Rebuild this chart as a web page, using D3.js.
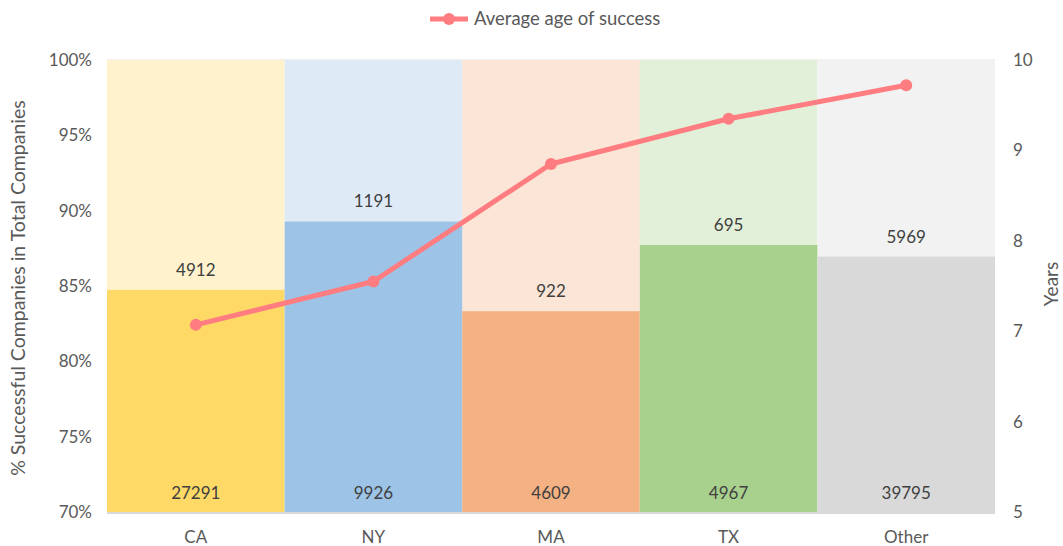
<!DOCTYPE html>
<html><head><meta charset="utf-8">
<script src="https://cdn.jsdelivr.net/npm/d3@7"></script>
<style>body{margin:0;background:#fff}svg text{font-family:Lato,"Open Sans",sans-serif}</style>
</head><body><svg id="c" width="1063" height="546"></svg>
<script>
const categories = ["CA","NY","MA","TX","Other"];
const successful = [27291, 9926, 4609, 4967, 39795];
const unsuccessful = [4912, 1191, 922, 695, 5969];
const avgAge = [7.07, 7.55, 8.85, 9.35, 9.72];
const lowerColors = ["#FFD966","#9DC3E6","#F4B183","#A9D18E","#D9D9D9"];
const upperColors = ["#FFF2CC","#DEEBF7","#FBE5D6","#E2F0D9","#F2F2F2"];
const leftTicks = [0.70,0.75,0.80,0.85,0.90,0.95,1.00];
const rightTicks = [5,6,7,8,9,10];

const svg = d3.select("#c");
const L = 107, R = 995, T = 60, B = 512;
const x = d3.scaleBand().domain(categories).range([L,R]).padding(0);
const y = d3.scaleLinear().domain([0.70,1.00]).range([B,T]);
const y2 = d3.scaleLinear().domain([5,10]).range([B,T]);
const textCol = "#595959";

const data = categories.map((c,i)=>({c, s:successful[i], u:unsuccessful[i], r:successful[i]/(successful[i]+unsuccessful[i]), age:avgAge[i], i}));

svg.append("line").attr("x1",L).attr("x2",R).attr("y1",y(1)).attr("y2",y(1)).attr("stroke","#e0e0e0");

svg.selectAll(".up").data(data).join("rect")
  .attr("x",d=>x(d.c)).attr("width",x.bandwidth())
  .attr("y",y(1)).attr("height",d=>y(d.r)-y(1))
  .attr("fill",d=>upperColors[d.i]);
svg.selectAll(".lo").data(data).join("rect")
  .attr("x",d=>x(d.c)).attr("width",x.bandwidth())
  .attr("y",d=>y(d.r)).attr("height",d=>y(0.70)-y(d.r))
  .attr("fill",d=>lowerColors[d.i]);

svg.selectAll(".lu").data(data).join("text")
  .attr("x",d=>x(d.c)+x.bandwidth()/2).attr("y",d=>y(d.r)-14)
  .attr("text-anchor","middle").attr("font-size",17).attr("fill","#404040")
  .text(d=>d.u);
svg.selectAll(".ls").data(data).join("text")
  .attr("x",d=>x(d.c)+x.bandwidth()/2).attr("y",y(0.70)-13)
  .attr("text-anchor","middle").attr("font-size",17).attr("fill","#404040")
  .text(d=>d.s);

svg.append("line").attr("x1",L).attr("x2",R).attr("y1",B+1).attr("y2",B+1).attr("stroke","#d9d9d9").attr("stroke-width",2);

const ax = d3.axisLeft(y).tickValues(leftTicks).tickFormat(d3.format(".0%")).tickSize(0).tickPadding(15);
const gl = svg.append("g").attr("transform",`translate(${L},0)`).call(ax);
gl.select(".domain").remove();
gl.selectAll("text").attr("font-size",17).attr("fill",textCol).attr("font-family","Lato,sans-serif");

const ar = d3.axisRight(y2).tickValues(rightTicks).tickFormat(d3.format("d")).tickSize(0).tickPadding(18);
const gr = svg.append("g").attr("transform",`translate(${R},0)`).call(ar);
gr.select(".domain").remove();
gr.selectAll("text").attr("font-size",17).attr("fill",textCol).attr("font-family","Lato,sans-serif");

const ab = d3.axisBottom(x).tickSize(0).tickPadding(19);
const gb = svg.append("g").attr("transform",`translate(0,${B})`).call(ab);
gb.select(".domain").remove();
gb.selectAll("text").attr("font-size",17).attr("fill",textCol).attr("font-family","Lato,sans-serif");

svg.append("text").attr("transform",`translate(25,${(T+B)/2 + 2}) rotate(-90)`)
  .attr("text-anchor","middle").attr("font-size",19.5).attr("fill",textCol)
  .text("% Successful Companies in Total Companies");
svg.append("text").attr("transform",`translate(1058,${(T+B)/2 - 2}) rotate(-90)`)
  .attr("text-anchor","middle").attr("font-size",19).attr("fill",textCol)
  .text("Years");

const lineCol = "#FF7C80";
const line = d3.line().x(d=>x(d.c)+x.bandwidth()/2).y(d=>y2(d.age));
svg.append("path").datum(data).attr("d",line).attr("fill","none").attr("stroke",lineCol).attr("stroke-width",5).attr("stroke-linejoin","round");
svg.selectAll(".pt").data(data).join("circle")
  .attr("cx",d=>x(d.c)+x.bandwidth()/2).attr("cy",d=>y2(d.age)).attr("r",6).attr("fill",lineCol);

const lg = svg.append("g");
lg.append("line").attr("x1",430).attr("x2",468).attr("y1",19).attr("y2",19).attr("stroke",lineCol).attr("stroke-width",5);
lg.append("circle").attr("cx",449).attr("cy",19).attr("r",6).attr("fill",lineCol);
lg.append("text").attr("x",474).attr("y",19).attr("dy","0.35em").attr("font-size",18.5).attr("fill",textCol).text("Average age of success");
</script></body></html>
